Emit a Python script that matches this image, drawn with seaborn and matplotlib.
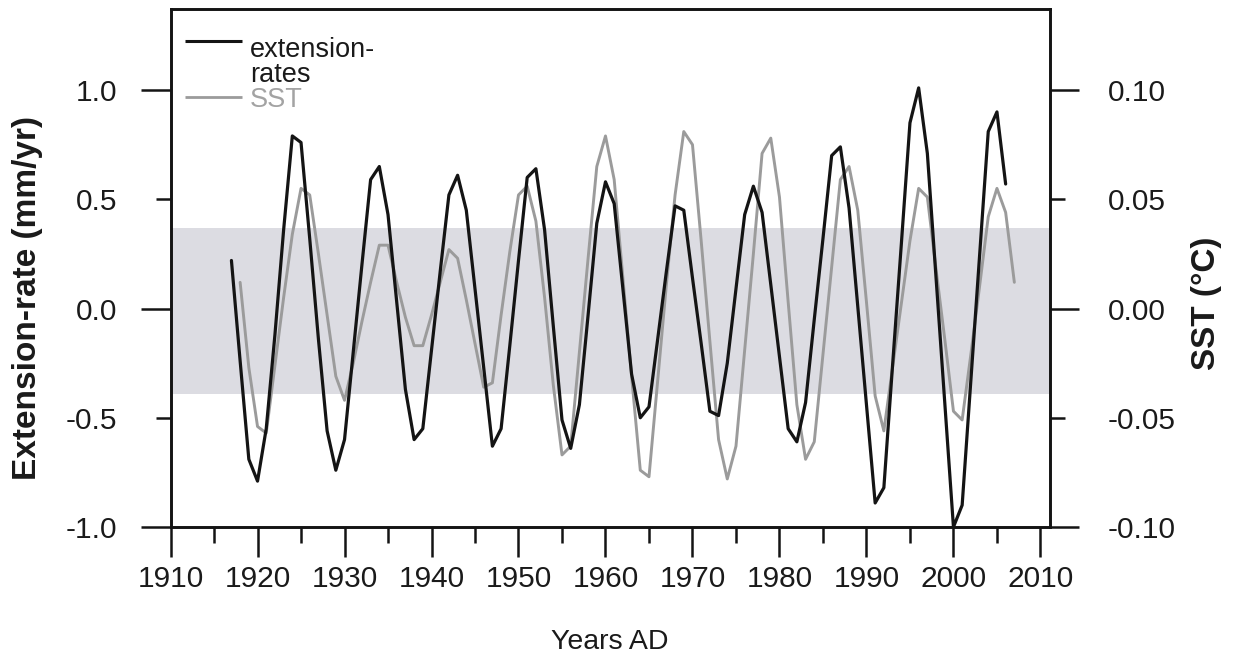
import matplotlib
matplotlib.use("Agg")
import matplotlib.pyplot as plt
import pandas as pd
import seaborn as sns
from matplotlib.ticker import FixedLocator, MultipleLocator, FormatStrFormatter

# Coral extension-rate anomalies (mm/yr), one value per year
ext_years = list(range(1917, 2007))
ext_rate = [
    0.22, -0.24, -0.69, -0.79, -0.55, -0.12, 0.36, 0.79, 0.76, 0.32,
    -0.14, -0.56, -0.74, -0.60, -0.20, 0.20, 0.59, 0.65, 0.43, 0.03,
    -0.37, -0.60, -0.55, -0.19, 0.17, 0.52, 0.61, 0.45, 0.09, -0.27,
    -0.63, -0.55, -0.17, 0.22, 0.60, 0.64, 0.36, -0.08, -0.51, -0.64,
    -0.44, -0.03, 0.39, 0.58, 0.48, 0.09, -0.30, -0.50, -0.45, -0.14,
    0.17, 0.47, 0.45, 0.14, -0.16, -0.47, -0.49, -0.25, 0.09, 0.43,
    0.56, 0.44, 0.11, -0.22, -0.55, -0.61, -0.43, -0.05, 0.32, 0.70,
    0.74, 0.46, 0.01, -0.44, -0.89, -0.82, -0.26, 0.29, 0.85, 1.01,
    0.71, 0.14, -0.43, -1.00, -0.90, -0.33, 0.24, 0.81, 0.90, 0.57,
]

# Sea-surface temperature anomalies (deg C)
sst_years = list(range(1918, 2008))
sst_anom = [
    0.012, -0.027, -0.054, -0.057, -0.026, 0.005, 0.034, 0.055, 0.052, 0.025,
    -0.003, -0.031, -0.042, -0.025, -0.006, 0.012, 0.029, 0.029, 0.012, -0.004,
    -0.017, -0.017, -0.003, 0.012, 0.027, 0.023, 0.004, -0.016, -0.036, -0.034,
    -0.003, 0.026, 0.052, 0.056, 0.040, 0.005, -0.035, -0.067, -0.063, -0.020,
    0.023, 0.065, 0.079, 0.059, 0.014, -0.031, -0.074, -0.077, -0.033, 0.011,
    0.052, 0.081, 0.075, 0.031, -0.015, -0.060, -0.078, -0.063, -0.019, 0.025,
    0.071, 0.078, 0.051, 0.003, -0.044, -0.069, -0.061, -0.021, 0.019, 0.059,
    0.065, 0.045, 0.003, -0.040, -0.056, -0.027, 0.002, 0.031, 0.055, 0.051,
    0.018, -0.014, -0.047, -0.051, -0.021, 0.010, 0.042, 0.055, 0.044, 0.012,
]

# Shaded range, in extension-rate units
band_limits = [-0.39, 0.37]

x_ticks = [1910, 1920, 1930, 1940, 1950, 1960, 1970, 1980, 1990, 2000, 2010]
ext_major = [-1.0, 0.0, 1.0]
ext_minor = [-0.5, 0.5]
sst_major = [-0.10, 0.00, 0.10]
sst_minor = [-0.05, 0.05]
SST_PER_EXT = 0.1  # right axis = left axis x 0.1

BLACK = "#141414"
GREY = "#9b9b9b"
BAND = "#dcdce2"

ext_df = pd.DataFrame({"year": ext_years, "rate": ext_rate})
sst_df = pd.DataFrame({"year": sst_years, "sst": sst_anom})

sns.set_style("ticks")
plt.rcParams["font.family"] = ["Liberation Sans", "DejaVu Sans"]
plt.rcParams["axes.unicode_minus"] = False

fig = plt.figure(figsize=(12.34, 6.62), dpi=100)
ax = fig.add_axes([0.1382, 0.2039, 0.7127, 0.7825])
ax2 = ax.twinx()
ax.set_zorder(ax2.get_zorder() + 1)
ax.patch.set_visible(False)
ax2.patch.set_facecolor("white")

ylo, yhi = -1.0, 1.371
ax.set_xlim(1910, 2011.1)
ax.set_ylim(ylo, yhi)
ax2.set_ylim(ylo * SST_PER_EXT, yhi * SST_PER_EXT)

ax2.axhspan(band_limits[0] * SST_PER_EXT, band_limits[1] * SST_PER_EXT,
            color=BAND, lw=0, zorder=0)
sns.lineplot(data=sst_df, x="year", y="sst", ax=ax2, color=GREY, lw=2.1,
             estimator=None, zorder=2)
sns.lineplot(data=ext_df, x="year", y="rate", ax=ax, color=BLACK, lw=2.3,
             estimator=None, zorder=3)

# ticks
ax.xaxis.set_major_locator(FixedLocator(x_ticks))
ax.xaxis.set_minor_locator(MultipleLocator(5))
ax.yaxis.set_major_locator(FixedLocator(ext_major))
ax.yaxis.set_minor_locator(FixedLocator(ext_minor))
ax.yaxis.set_major_formatter(FormatStrFormatter("%.1f"))
ax.yaxis.set_minor_formatter(FormatStrFormatter("%.1f"))
ax2.yaxis.set_major_locator(FixedLocator(sst_major))
ax2.yaxis.set_minor_locator(FixedLocator(sst_minor))
ax2.yaxis.set_major_formatter(FormatStrFormatter("%.2f"))
ax2.yaxis.set_minor_formatter(FormatStrFormatter("%.2f"))

tc = "#1a1a1a"
fs = 21.5
ax.tick_params(axis="x", which="major", direction="out", length=21.6, width=1.8,
               pad=6, labelsize=fs, top=False, colors=BLACK, labelcolor=tc)
ax.tick_params(axis="x", which="minor", direction="out", length=11.5, width=1.8,
               top=False, colors=BLACK)
ax.tick_params(axis="y", which="major", direction="out", length=21.6, width=1.8,
               pad=17, labelsize=fs, right=False, colors=BLACK, labelcolor=tc)
ax.tick_params(axis="y", which="minor", direction="out", length=10.8, width=1.8,
               pad=27.8, labelsize=fs, right=False, colors=BLACK, labelcolor=tc)
ax2.tick_params(axis="y", which="major", direction="out", length=20.9, width=1.8,
                pad=20.5, labelsize=fs, colors=BLACK, labelcolor=tc)
ax2.tick_params(axis="y", which="minor", direction="out", length=10.5, width=1.8,
                pad=30.9, labelsize=fs, colors=BLACK, labelcolor=tc)

for a in (ax, ax2):
    for s in a.spines.values():
        s.set_visible(True)
        s.set_linewidth(1.9)
        s.set_color(BLACK)

# axis labels
ax.set_xlabel("Years AD", fontsize=20.5, color=tc, va="center")
ax.xaxis.set_label_coords(0.4997, -0.222)
ax.set_ylabel("Extension-rate (mm/yr)", fontsize=24, fontweight="bold",
              color=tc, va="center")
ax.yaxis.set_label_coords(-0.1632, 0.442)
ax2.set_ylabel("SST (°C)", fontsize=24, fontweight="bold", color=tc,
               va="center", rotation=90)
ax2.yaxis.set_label_coords(1.1785, 0.432)

# legend keys
ax.plot([0.0165, 0.0813], [0.938, 0.938], transform=ax.transAxes,
        color=BLACK, lw=2.2, solid_capstyle="butt")
ax.plot([0.0165, 0.0813], [0.8301, 0.8301], transform=ax.transAxes,
        color=GREY, lw=2.0, solid_capstyle="butt")
ax.text(0.0904, 0.9073, "extension-", transform=ax.transAxes, fontsize=19.5,
        va="baseline", ha="left", color=tc)
ax.text(0.0904, 0.8591, "rates", transform=ax.transAxes, fontsize=19.5,
        va="baseline", ha="left", color=tc)
ax.text(0.0904, 0.8108, "SST", transform=ax.transAxes, fontsize=19.5,
        va="baseline", ha="left", color="#a3a3a3")

fig.savefig("out.png", dpi=100)
